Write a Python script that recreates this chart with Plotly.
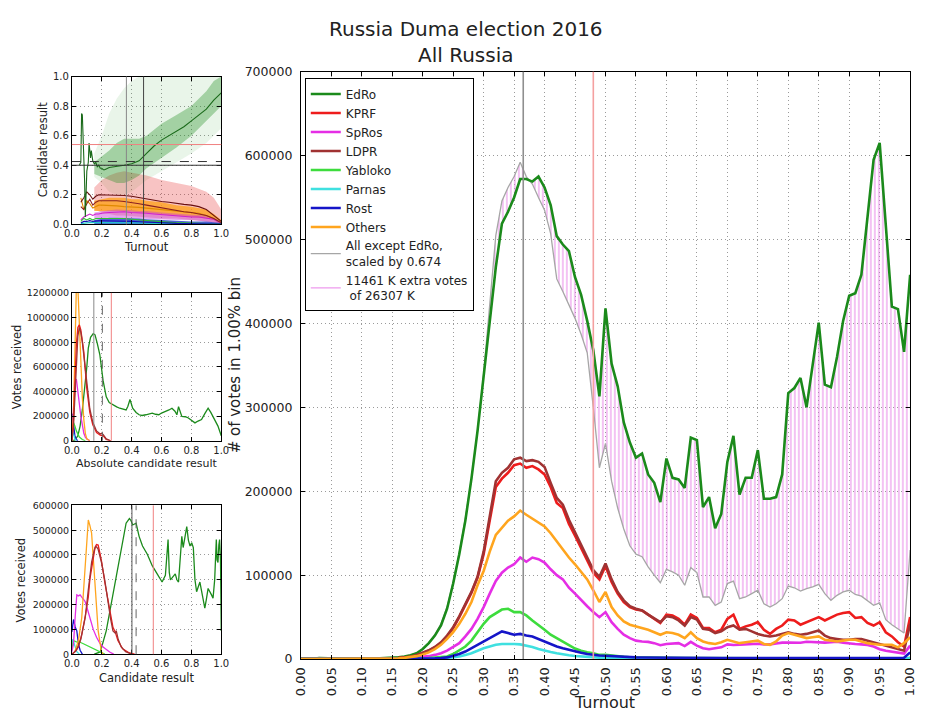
import plotly.graph_objects as go

W, H = 926, 717
FONT = "DejaVu Sans"

# ---------------------------------------------------------------- main panel data
# turnout bins of 1 %, votes per bin in thousands
turnout = [i / 100 for i in range(101)]

edro_k = [0.5, 0.3, 0.5, 1.2, 0.8, 0.6, 0.5, 0.6, 0.5, 0.4,
          0.5, 0.6, 0.7, 0.9, 1.2, 1.6, 2.2, 3.0, 4.5, 7.0,
          12, 19, 28, 40, 60, 90, 125, 165, 215, 272,
          338, 405, 467, 519, 533, 550, 572, 572, 569, 575,
          562, 541, 504, 494, 486, 455, 434, 403, 368, 313,
          418, 352, 325, 282, 258, 240, 245, 220, 210, 187,
          239, 216, 214, 204, 264, 261, 181, 193, 156, 173,
          235, 266, 196, 216, 216, 249, 191, 191, 193, 220,
          317, 323, 335, 300, 350, 401, 327, 324, 360, 403,
          433, 436, 458, 525, 595, 615, 520, 420, 417, 366,
          458]

others_scaled_k = [0.4, 0.3, 0.4, 0.9, 0.7, 0.5, 0.5, 0.5, 0.5, 0.4,
                   0.5, 0.6, 0.7, 0.9, 1.2, 1.7, 2.3, 3.1, 4.7, 7.3,
                   12, 19, 29, 42, 62, 92, 127, 168, 215, 272,
                   340, 420, 505, 546, 562, 575, 592, 575, 566, 550,
                   535, 507, 453, 438, 422, 406, 387, 365, 300, 228,
                   257, 212, 180, 155, 135, 125, 122, 110, 100, 91,
                   107, 104, 100, 88, 109, 103, 74, 74, 64, 68,
                   90, 93, 72, 74, 78, 82, 66, 62, 66, 72,
                   87, 85, 81, 84, 86, 89, 78, 70, 76, 80,
                   82, 77, 75, 70, 64, 67, 47, 41, 36, 31,
                   130]

kprf_k = [0.2, 0.1, 0.2, 0.4, 0.3, 0.2, 0.2, 0.2, 0.2, 0.2,
          0.2, 0.2, 0.3, 0.3, 0.5, 0.8, 1.2, 1.8, 2.8, 4.5,
          7, 10, 14, 19, 27, 37, 50, 64, 79, 97,
          125, 165, 205, 215, 222, 231, 233, 228, 230, 226,
          220, 205, 186, 180, 161, 147, 132, 117, 103, 95,
          111, 92, 78, 68, 62, 59, 58, 53, 48, 43,
          53, 52, 48, 41, 53, 49, 37, 37, 32, 35,
          48, 53, 36, 39, 41, 44, 35, 30, 36, 40,
          47, 46, 41, 44, 47, 50, 46, 50, 53, 55,
          56, 49, 50, 43, 40, 44, 32, 27, 20, 15,
          50]

spros_k = [0.1, 0.1, 0.1, 0.1, 0.1, 0.1, 0.1, 0.1, 0.1, 0.1,
           0.1, 0.1, 0.1, 0.2, 0.2, 0.3, 0.5, 0.8, 1.2, 1.8,
           2.6, 3.5, 5, 7, 10, 14, 19, 27, 36, 48,
           62, 78, 93, 103, 109, 113, 121, 116, 121, 119,
           115, 107, 100, 95, 85, 78, 70, 63, 56, 50,
           56, 44, 36, 29, 25, 22, 21, 20.5, 19, 16.5,
           18, 18.5, 19, 15.5, 20.5, 16, 13, 11.7, 12.5, 14,
           17.5, 16.7, 17, 17.5, 18, 18.3, 17.5, 17.5, 18.5, 19.6,
           19.6, 19.6, 19.5, 20.6, 20, 19.6, 19.6, 20, 20.6, 19.5,
           18.3, 18, 17.5, 16.7, 15, 11.7, 10, 8.9, 7.5, 6.6,
           16]

ldpr_k = [0.2, 0.1, 0.2, 0.3, 0.3, 0.2, 0.2, 0.2, 0.2, 0.2,
          0.2, 0.2, 0.3, 0.3, 0.5, 0.8, 1.2, 1.8, 2.8, 4.5,
          7.5, 10.5, 14.5, 20, 28, 38, 51, 65, 80, 98,
          128, 170, 212, 222, 228, 238, 240, 236, 237, 235,
          229, 210, 192, 184, 166, 151, 136, 121, 106, 98,
          114, 95, 80, 70, 63, 60, 58, 53, 49, 44,
          51, 50, 46, 40, 50, 47, 36, 35, 31, 33,
          38, 40, 35, 36, 33, 30, 28, 27, 28, 30,
          32, 30, 29, 30, 32, 34, 28, 25, 24, 23,
          23, 24, 24, 22, 20, 18, 16, 14, 12, 10,
          42]

yabloko_k = [0, 0, 0, 0.1, 0, 0, 0, 0, 0, 0,
             0, 0, 0, 0.1, 0.1, 0.1, 0.1, 0.2, 0.3, 0.5,
             0.8, 1.1, 1.5, 2, 3, 6, 10, 15, 22, 32,
             42, 50, 55, 59, 60, 56, 56, 52, 46, 41,
             35, 29, 25, 20, 16, 12.5, 10, 8, 7, 5,
             5, 4, 3.2, 2.6, 2.2, 2, 1.8, 1.6, 1.5, 1.4,
             1.5, 1.4, 1.3, 1.2, 1.3, 1.2, 1.0, 1.0, 0.9, 0.9,
             1.0, 1.0, 0.9, 0.9, 0.9, 0.9, 0.8, 0.8, 0.8, 0.8,
             0.8, 0.8, 0.7, 0.7, 0.7, 0.7, 0.7, 0.6, 0.6, 0.6,
             0.6, 0.6, 0.6, 0.5, 0.5, 0.5, 0.5, 0.4, 0.4, 0.4,
             1.5]

parnas_k = [0, 0, 0, 0, 0, 0, 0, 0, 0, 0,
            0, 0, 0, 0, 0, 0, 0, 0.1, 0.1, 0.2,
            0.3, 0.4, 0.5, 0.8, 1.3, 2, 3, 5, 7, 10,
            13, 15, 17, 18, 18.3, 18, 17.5, 16, 14.5, 12,
            10, 8.5, 7, 5.5, 4.5, 3.6, 3, 2.5, 2, 1.7,
            1.7, 1.4, 1.3, 1.2, 1.1, 1.1, 1.0, 1.0, 1.0, 0.9,
            1.0, 0.9, 0.9, 0.8, 0.9, 0.8, 0.7, 0.7, 0.7, 0.7,
            0.7, 0.7, 0.6, 0.6, 0.6, 0.6, 0.6, 0.5, 0.5, 0.5,
            0.5, 0.5, 0.5, 0.5, 0.5, 0.5, 0.4, 0.4, 0.4, 0.4,
            0.4, 0.4, 0.4, 0.4, 0.4, 0.3, 0.3, 0.3, 0.3, 0.4,
            0.8]

rost_k = [0, 0, 0, 0, 0, 0, 0, 0, 0, 0,
          0, 0, 0, 0, 0, 0.1, 0.1, 0.1, 0.2, 0.3,
          0.4, 0.6, 0.8, 1.2, 2, 4, 6, 9, 13, 18,
          22, 26, 29, 33, 31, 29, 30, 28, 27, 24,
          21, 18, 15, 13, 11, 9, 7.5, 6, 5, 4.3,
          4, 3.5, 3, 2.6, 2.2, 2.0, 1.9, 1.8, 1.7, 1.6,
          1.7, 1.6, 1.5, 1.4, 1.6, 1.5, 1.3, 1.2, 1.2, 1.2,
          1.3, 1.3, 1.2, 1.2, 1.2, 1.2, 1.1, 1.1, 1.1, 1.1,
          1.2, 1.2, 1.1, 1.1, 1.1, 1.1, 1.0, 1.0, 1.0, 1.0,
          1.0, 1.0, 1.0, 1.0, 0.9, 0.9, 0.9, 0.9, 1.0, 1.5,
          8]

others_k = [0.1, 0.1, 0.1, 0.2, 0.2, 0.1, 0.1, 0.1, 0.1, 0.1,
            0.1, 0.2, 0.2, 0.3, 0.4, 0.6, 0.9, 1.4, 2.2, 3.5,
            5.5, 8, 12, 17, 24, 32, 42, 54, 68, 88,
            105, 128, 148, 157, 165, 170, 177, 172, 167, 163,
            158, 150, 140, 130, 121, 113, 104, 95, 82, 68,
            80, 62, 52, 45, 41, 39, 37, 35, 32, 29,
            32, 31, 29, 25, 32, 25, 21, 19, 18, 20,
            23, 21, 19, 20, 21, 22, 18, 17, 21, 28,
            31, 29, 27, 25, 26, 27, 23, 22, 21, 22,
            23, 23, 21, 19, 18, 17, 17, 17, 14, 19,
            26]

party_names = ["EdRo", "KPRF", "SpRos", "LDPR", "Yabloko", "Parnas", "Rost", "Others"]
party_colors = ["#1b8a1b", "#ee1c1c", "#e52ee5", "#a03232", "#3ddc3d", "#3fe0e0", "#1515c8", "#ffa51e"]
party_votes_k = [edro_k, kprf_k, spros_k, ldpr_k, yabloko_k, parnas_k, rost_k, others_k]

scale_label = "All except EdRo,<br>scaled by 0.674"
extra_label = "11461 K extra votes<br> of 26307 K"

median_turnout = 0.365
official_turnout = 0.48

# ---------------------------------------------------------------- small panel 1 (result vs turnout)
p1_edro_t = [0.05, 0.06, 0.065, 0.07, 0.085, 0.09, 0.10, 0.11, 0.115, 0.125, 0.13, 0.14, 0.15,
             0.16, 0.17, 0.18, 0.19, 0.20, 0.21, 0.22, 0.25, 0.30, 0.35, 0.40, 0.45, 0.50,
             0.55, 0.60, 0.65, 0.70, 0.75, 0.80, 0.85, 0.90, 0.95, 1.00]
p1_edro_r = [0.40, 0.42, 0.75, 0.74, 0.30, 0.05, 0.36, 0.42, 0.55, 0.45, 0.50, 0.43, 0.41,
             0.42, 0.39, 0.40, 0.38, 0.38, 0.37, 0.37, 0.385, 0.39, 0.40, 0.41, 0.43, 0.48,
             0.53, 0.57, 0.60, 0.63, 0.66, 0.70, 0.74, 0.78, 0.84, 0.89]

p1_t = [0.06, 0.08, 0.10, 0.12, 0.14, 0.16, 0.18, 0.20, 0.25, 0.30, 0.35, 0.40, 0.45, 0.50,
        0.55, 0.60, 0.65, 0.70, 0.75, 0.80, 0.85, 0.90, 0.95, 1.00]
p1_kprf_r = [0.15, 0.18, 0.22, 0.20, 0.17, 0.19, 0.20, 0.20, 0.20, 0.20, 0.195, 0.19, 0.18, 0.17,
             0.16, 0.155, 0.15, 0.14, 0.135, 0.13, 0.12, 0.10, 0.06, 0.02]
p1_ldpr_r = [0.12, 0.10, 0.14, 0.17, 0.13, 0.15, 0.16, 0.16, 0.165, 0.16, 0.155, 0.15, 0.14, 0.13,
             0.12, 0.11, 0.10, 0.09, 0.085, 0.08, 0.07, 0.06, 0.04, 0.01]
p1_others_r = [0.18, 0.10, 0.16, 0.14, 0.11, 0.12, 0.13, 0.13, 0.13, 0.125, 0.12, 0.12, 0.115, 0.11,
               0.105, 0.10, 0.095, 0.09, 0.085, 0.08, 0.075, 0.06, 0.04, 0.015]
p1_spros_r = [0.03, 0.05, 0.06, 0.07, 0.06, 0.07, 0.07, 0.075, 0.08, 0.085, 0.085, 0.08, 0.08, 0.075,
              0.07, 0.065, 0.06, 0.06, 0.055, 0.05, 0.05, 0.045, 0.035, 0.01]
p1_yabloko_r = [0.02, 0.04, 0.03, 0.04, 0.03, 0.04, 0.04, 0.04, 0.045, 0.045, 0.04, 0.035, 0.03, 0.025,
                0.02, 0.015, 0.012, 0.01, 0.01, 0.008, 0.007, 0.006, 0.005, 0.003]
p1_rost_r = [0.01, 0.02, 0.02, 0.025, 0.02, 0.025, 0.025, 0.025, 0.025, 0.025, 0.022, 0.02, 0.018, 0.015,
             0.012, 0.01, 0.008, 0.007, 0.006, 0.005, 0.005, 0.004, 0.003, 0.002]
p1_parnas_r = [0.005, 0.01, 0.01, 0.012, 0.01, 0.012, 0.012, 0.012, 0.014, 0.014, 0.013, 0.012, 0.01, 0.008,
               0.006, 0.005, 0.004, 0.004, 0.003, 0.003, 0.003, 0.002, 0.002, 0.001]

# density clouds of polling stations (envelopes)
cloud_t = [0.15, 0.2, 0.25, 0.3, 0.35, 0.4, 0.45, 0.5, 0.6, 0.7, 0.8, 0.9, 0.95, 1.0]
green_haze_lo = [0.32, 0.28, 0.22, 0.2, 0.2, 0.22, 0.26, 0.3, 0.36, 0.42, 0.48, 0.55, 0.6, 0.65]
green_haze_hi = [0.48, 0.6, 0.75, 0.85, 0.92, 0.97, 1.0, 1.0, 1.0, 1.0, 1.0, 1.0, 1.0, 1.0]
green_core_lo = [0.34, 0.32, 0.3, 0.28, 0.28, 0.3, 0.33, 0.38, 0.45, 0.52, 0.6, 0.7, 0.75, 0.8]
green_core_hi = [0.42, 0.46, 0.5, 0.55, 0.58, 0.58, 0.58, 0.6, 0.68, 0.74, 0.8, 0.9, 0.97, 1.0]
red_lo = [0.1, 0.08, 0.07, 0.06, 0.06, 0.06, 0.05, 0.05, 0.04, 0.04, 0.03, 0.02, 0.01, 0.0]
red_hi = [0.25, 0.3, 0.33, 0.35, 0.36, 0.35, 0.34, 0.33, 0.3, 0.28, 0.26, 0.22, 0.18, 0.1]
orange_lo = [0.09, 0.09, 0.09, 0.09, 0.09, 0.09, 0.08, 0.08, 0.07, 0.06, 0.05, 0.04, 0.03, 0.0]
orange_hi = [0.16, 0.17, 0.18, 0.18, 0.18, 0.17, 0.17, 0.16, 0.15, 0.13, 0.12, 0.1, 0.07, 0.03]
violet_lo = [0.04, 0.04, 0.045, 0.045, 0.045, 0.045, 0.04, 0.04, 0.035, 0.03, 0.03, 0.02, 0.015, 0.0]
violet_hi = [0.08, 0.09, 0.095, 0.1, 0.1, 0.095, 0.09, 0.09, 0.08, 0.07, 0.065, 0.06, 0.045, 0.02]
blue_lo = [0.0, 0.0, 0.0, 0.0, 0.0, 0.0, 0.0, 0.0, 0.0, 0.0, 0.0, 0.0, 0.0, 0.0]
blue_hi = [0.03, 0.04, 0.045, 0.045, 0.045, 0.04, 0.04, 0.035, 0.03, 0.025, 0.02, 0.02, 0.015, 0.01]

p1_hlines = [(0.54, "#f08080", "solid"), (0.425, "#333333", "dash"), (0.40, "#333333", "solid")]
p1_vlines = [(0.365, "#888888", "solid"), (0.48, "#444444", "solid")]

# ---------------------------------------------------------------- small panel 2 (votes vs absolute result)
edro_abs_x = [0.0, 0.02, 0.04, 0.055, 0.07, 0.088, 0.10, 0.11, 0.125, 0.143, 0.155, 0.17, 0.187, 0.209,
              0.23, 0.25, 0.275, 0.30, 0.32, 0.34, 0.363, 0.375, 0.389, 0.407, 0.43, 0.45, 0.47, 0.495,
              0.52, 0.538, 0.56, 0.582, 0.60, 0.626, 0.65, 0.67, 0.69, 0.703, 0.714, 0.736, 0.76, 0.78,
              0.80, 0.824, 0.845, 0.868, 0.89, 0.912, 0.93, 0.945, 0.96, 0.978, 1.0]
edro_abs_k = [0, 5, 40, 119, 250, 435, 600, 752, 840, 870, 860, 790, 700, 488,
              356, 310, 290, 275, 264, 255, 250, 280, 335, 264, 230, 211, 205, 211,
              215, 224, 215, 211, 225, 237, 250, 264, 240, 211, 277, 198, 195, 185,
              165, 145, 160, 172, 220, 264, 230, 198, 160, 119, 40]
others_abs_x = [0.0, 0.01, 0.02, 0.03, 0.04, 0.05, 0.06, 0.07, 0.08, 0.09, 0.10, 0.12]
others_abs_k = [0, 200, 700, 1250, 1250, 900, 620, 350, 170, 60, 15, 0]
kprf_abs_x = [0.0, 0.01, 0.02, 0.03, 0.04, 0.05, 0.06, 0.07, 0.08, 0.10, 0.12, 0.14, 0.165, 0.19, 0.21, 0.23, 0.26]
kprf_abs_k = [0, 150, 450, 780, 920, 940, 900, 820, 720, 420, 230, 130, 66, 45, 40, 10, 0]
ldpr_abs_x = [0.0, 0.01, 0.02, 0.03, 0.04, 0.05, 0.06, 0.07, 0.08, 0.10, 0.12, 0.14, 0.165, 0.19, 0.20, 0.21, 0.23, 0.26]
ldpr_abs_k = [0, 100, 350, 650, 850, 920, 880, 800, 700, 450, 260, 150, 80, 55, 60, 50, 15, 0]
spros_abs_x = [0.0, 0.01, 0.02, 0.03, 0.04, 0.05, 0.06, 0.07, 0.08, 0.09, 0.10, 0.12]
spros_abs_k = [0, 300, 480, 500, 420, 300, 200, 120, 60, 30, 15, 0]
yabloko_abs_x = [0.0, 0.01, 0.02, 0.03, 0.05, 0.07, 0.09]
yabloko_abs_k = [100, 150, 120, 80, 30, 10, 0]
parnas_abs_x = [0.0, 0.005, 0.01, 0.02, 0.03]
parnas_abs_k = [80, 100, 60, 15, 0]
rost_abs_x = [0.0, 0.005, 0.01, 0.02, 0.03, 0.04]
rost_abs_k = [60, 220, 150, 40, 10, 0]
p2_vlines = [(0.147, "#888888", "solid"), (0.204, "#666666", "dash"), (0.264, "#f08080", "solid")]

# ---------------------------------------------------------------- small panel 3 (votes vs result)
edro_res_x = [0.15, 0.19, 0.23, 0.275, 0.32, 0.363, 0.385, 0.395, 0.407, 0.43, 0.45, 0.473, 0.505,
              0.538, 0.571, 0.604, 0.626, 0.635, 0.644, 0.652, 0.66, 0.692, 0.703, 0.714, 0.725,
              0.736, 0.745, 0.758, 0.769, 0.78, 0.791, 0.802, 0.813, 0.824, 0.835, 0.857, 0.875,
              0.89, 0.9, 0.912, 0.934, 0.945, 0.956, 0.962, 0.967, 0.972, 0.978, 0.984, 0.989,
              0.995, 1.0]
edro_res_k = [0, 9, 94, 239, 390, 528, 547, 540, 521, 528, 475, 436, 403,
              357, 324, 291, 318, 380, 462, 330, 300, 324, 300, 291, 380,
              475, 430, 480, 514, 460, 436, 449, 430, 300, 252, 291, 240,
              186, 220, 265, 240, 226, 300, 440, 462, 380, 370, 440, 462,
              380, 94]
others_res_x = [0.02, 0.044, 0.066, 0.088, 0.10, 0.11, 0.12, 0.132, 0.154, 0.176, 0.198, 0.21]
others_res_k = [10, 55, 147, 344, 470, 541, 520, 488, 291, 94, 9, 0]
kprf_res_x = [0.0, 0.02, 0.044, 0.066, 0.088, 0.11, 0.121, 0.143, 0.155, 0.165, 0.176, 0.187, 0.20,
              0.22, 0.253, 0.275, 0.29, 0.308, 0.34, 0.385, 0.42]
kprf_res_k = [0, 10, 29, 80, 147, 230, 304, 396, 430, 442, 440, 409, 370,
              291, 173, 108, 90, 55, 22, 5, 0]
ldpr_res_x = [0.0, 0.03, 0.06, 0.09, 0.11, 0.132, 0.15, 0.16, 0.175, 0.198, 0.22, 0.242, 0.26,
              0.275, 0.29, 0.297, 0.31, 0.33, 0.36, 0.40]
ldpr_res_k = [0, 15, 60, 150, 260, 370, 420, 436, 425, 370, 300, 200, 140,
              94, 85, 95, 60, 29, 10, 0]
spros_res_x = [0.0, 0.011, 0.022, 0.033, 0.044, 0.055, 0.066, 0.077, 0.088, 0.10, 0.121, 0.143,
               0.165, 0.187, 0.209, 0.231, 0.253, 0.28]
spros_res_k = [10, 42, 150, 239, 235, 239, 230, 220, 213, 190, 147, 100, 68, 45, 29, 18, 9, 0]
yabloko_res_x = [0.0, 0.011, 0.03, 0.055, 0.077, 0.10, 0.143, 0.187, 0.22]
yabloko_res_k = [20, 55, 50, 48, 42, 35, 22, 9, 0]
parnas_res_x = [0.0, 0.005, 0.011, 0.022, 0.033, 0.05]
parnas_res_k = [40, 60, 50, 25, 10, 0]
rost_res_x = [0.0, 0.005, 0.011, 0.022, 0.033, 0.044, 0.055, 0.07]
rost_res_k = [90, 120, 140, 110, 94, 42, 16, 0]
p3_vlines = [(0.402, "#555555", "solid"), (0.43, "#666666", "dash"), (0.545, "#f08080", "solid")]


# ---------------------------------------------------------------- helpers
def px_x(p):
    return p / W


def px_y(p):
    return 1 - p / H


def kilo(vals):
    return [v * 1000 for v in vals]


def axis(domain, rng, dtick, fmt, anchor, size, angle=None, standoff=0):
    a = dict(domain=domain, range=rng, dtick=dtick, tick0=0, tickformat=fmt, anchor=anchor,
             showline=True, linecolor="black", linewidth=1, mirror="ticks",
             ticks="inside", ticklen=4, tickcolor="black", ticklabelstandoff=standoff,
             showgrid=True, gridcolor="#9a9a9a", griddash="1px,3px", gridwidth=1,
             zeroline=False, fixedrange=True,
             tickfont=dict(family=FONT, size=size, color="#222222"))
    if angle is not None:
        a["tickangle"] = angle
    return a


fig = go.Figure()

# ---------------------------------------------------------------- main panel traces
# hatched excess area between EdRo and the scaled sum of the other parties
fig.add_trace(go.Scatter(x=turnout, y=kilo(others_scaled_k), mode="lines", line=dict(width=0),
                         showlegend=False, hoverinfo="skip", xaxis="x", yaxis="y"))
fig.add_trace(go.Scatter(x=turnout, y=kilo(edro_k), mode="lines", line=dict(width=0),
                         fill="tonexty", fillcolor="rgba(0,0,0,0)",
                         fillpattern=dict(shape="|", fgcolor="#e36ee3", bgcolor="rgba(0,0,0,0)",
                                          size=4, solidity=0.42, fillmode="overlay"),
                         showlegend=False, hoverinfo="skip", xaxis="x", yaxis="y"))
fig.add_trace(go.Scatter(x=turnout, y=kilo(others_scaled_k), mode="lines",
                         line=dict(color="#a6a6a6", width=1.3), name=scale_label,
                         legendrank=9, xaxis="x", yaxis="y"))
fig.add_trace(go.Scatter(x=[None], y=[None], mode="lines", line=dict(color="#ee9aee", width=1.3),
                         name=extra_label, legendrank=10, xaxis="x", yaxis="y"))

for i, (name, votes, color) in enumerate(zip(party_names, party_votes_k, party_colors)):
    fig.add_trace(go.Scatter(x=turnout, y=kilo(votes), mode="lines", name=name,
                             line=dict(color=color, width=2.6), legendrank=i + 1,
                             xaxis="x", yaxis="y"))

# ---------------------------------------------------------------- small panel 1 traces
clouds = [
    (green_haze_lo, green_haze_hi, "rgba(40,160,40,0.10)"),
    (red_lo, red_hi, "rgba(230,40,40,0.28)"),
    (green_core_lo, green_core_hi, "rgba(30,140,30,0.34)"),
    (orange_lo, orange_hi, "rgba(255,160,20,0.75)"),
    (violet_lo, violet_hi, "rgba(200,60,220,0.45)"),
    (blue_lo, blue_hi, "rgba(20,40,200,0.75)"),
]
for lo, hi, col in clouds:
    fig.add_trace(go.Scatter(x=cloud_t + cloud_t[::-1], y=hi + lo[::-1], mode="lines",
                             fill="toself", fillcolor=col, line=dict(width=0),
                             showlegend=False, hoverinfo="skip", xaxis="x2", yaxis="y2"))

p1_lines = [
    (p1_t, p1_others_r, "#e08a00"), (p1_t, p1_spros_r, "#d020d0"),
    (p1_t, p1_yabloko_r, "#30c030"), (p1_t, p1_parnas_r, "#20c8c8"),
    (p1_t, p1_rost_r, "#1010b0"), (p1_t, p1_ldpr_r, "#8b2020"),
    (p1_t, p1_kprf_r, "#6a1010"), (p1_edro_t, p1_edro_r, "#1a6a1a"),
]
for xs, ys, col in p1_lines:
    fig.add_trace(go.Scatter(x=xs, y=ys, mode="lines", line=dict(color=col, width=1.1),
                             showlegend=False, hoverinfo="skip", xaxis="x2", yaxis="y2"))

# ---------------------------------------------------------------- small panel 2 traces
p2_lines = [
    (edro_abs_x, edro_abs_k, party_colors[0]), (rost_abs_x, rost_abs_k, party_colors[6]),
    (parnas_abs_x, parnas_abs_k, party_colors[5]), (yabloko_abs_x, yabloko_abs_k, party_colors[4]),
    (spros_abs_x, spros_abs_k, party_colors[2]), (others_abs_x, others_abs_k, party_colors[7]),
    (kprf_abs_x, kprf_abs_k, party_colors[1]), (ldpr_abs_x, ldpr_abs_k, party_colors[3]),
]
for xs, ys, col in p2_lines:
    fig.add_trace(go.Scatter(x=xs, y=kilo(ys), mode="lines", line=dict(color=col, width=1.3),
                             showlegend=False, hoverinfo="skip", xaxis="x3", yaxis="y3"))

# ---------------------------------------------------------------- small panel 3 traces
p3_lines = [
    (edro_res_x, edro_res_k, party_colors[0]), (rost_res_x, rost_res_k, party_colors[6]),
    (parnas_res_x, parnas_res_k, party_colors[5]), (yabloko_res_x, yabloko_res_k, party_colors[4]),
    (spros_res_x, spros_res_k, party_colors[2]), (others_res_x, others_res_k, party_colors[7]),
    (kprf_res_x, kprf_res_k, party_colors[1]), (ldpr_res_x, ldpr_res_k, party_colors[3]),
]
for xs, ys, col in p3_lines:
    fig.add_trace(go.Scatter(x=xs, y=kilo(ys), mode="lines", line=dict(color=col, width=1.3),
                             showlegend=False, hoverinfo="skip", xaxis="x4", yaxis="y4"))

# ---------------------------------------------------------------- reference lines
shapes = [
    dict(type="line", xref="x", yref="y domain", x0=median_turnout, x1=median_turnout, y0=0, y1=1,
         line=dict(color="#8f8f8f", width=1.6)),
    dict(type="line", xref="x", yref="y domain", x0=official_turnout, x1=official_turnout, y0=0, y1=1,
         line=dict(color="#f4a0a0", width=1.6)),
]
for xv, col, dash in p1_vlines:
    shapes.append(dict(type="line", xref="x2", yref="y2 domain", x0=xv, x1=xv, y0=0, y1=1,
                       line=dict(color=col, width=1, dash=dash)))
for yv, col, dash in p1_hlines:
    shapes.append(dict(type="line", xref="x2 domain", yref="y2", x0=0, x1=1, y0=yv, y1=yv,
                       line=dict(color=col, width=1, dash=dash)))
for xv, col, dash in p2_vlines:
    shapes.append(dict(type="line", xref="x3", yref="y3 domain", x0=xv, x1=xv, y0=0, y1=1,
                       line=dict(color=col, width=1, dash=dash)))
for xv, col, dash in p3_vlines:
    shapes.append(dict(type="line", xref="x4", yref="y4 domain", x0=xv, x1=xv, y0=0, y1=1,
                       line=dict(color=col, width=1, dash=dash)))


# ---------------------------------------------------------------- titles
def label(text, x, y, size, angle=0, yanchor="middle"):
    return dict(text=text, x=px_x(x), y=px_y(y), xref="paper", yref="paper", showarrow=False,
                textangle=angle, xanchor="center", yanchor=yanchor,
                font=dict(family=FONT, size=size, color="#222222"))


annotations = [
    label("Russia Duma election 2016<br>All Russia", 466, 7, 20, yanchor="top"),
    label("# of votes in 1.00% bin", 231, 365, 15, -90),
    label("Turnout", 607, 709, 16),
    label("Candidate result", 36, 145, 11.5, -90),
    label("Turnout", 141, 244, 11.5),
    label("Votes received", 9, 366, 11.5, -90),
    label("Absolute candidate result", 141, 465, 11),
    label("Votes received", 13, 584, 11.5, -90),
    label("Candidate result", 141, 684, 11.5),
]

sx = [px_x(65), px_x(217)]
layout = dict(
    width=W, height=H,
    margin=dict(l=0, r=0, t=0, b=0),
    paper_bgcolor="white", plot_bgcolor="white",
    font=dict(family=FONT, color="#222222"),
    xaxis=axis([px_x(298), px_x(918)], [0, 1], 0.05, ".2f", "y", 13, angle=-90, standoff=2),
    yaxis=axis([px_y(665), px_y(65)], [0, 700000], 100000, "d", "x", 12.5, standoff=5),
    xaxis2=axis(sx, [0, 1], 0.2, ".1f", "y2", 10),
    yaxis2=axis([px_y(221), px_y(70)], [0, 1], 0.2, ".1f", "x2", 10),
    xaxis3=axis(sx, [0, 1], 0.2, ".1f", "y3", 10),
    yaxis3=axis([px_y(442), px_y(291)], [0, 1200000], 200000, "d", "x3", 9.5),
    xaxis4=axis(sx, [0, 1], 0.2, ".1f", "y4", 10),
    yaxis4=axis([px_y(660), px_y(508)], [0, 600000], 100000, "d", "x4", 9.5),
    legend=dict(x=px_x(302), y=px_y(72), xanchor="left", yanchor="top",
                bgcolor="white", bordercolor="black", borderwidth=1,
                font=dict(family=FONT, size=12, color="#222222"),
                itemwidth=30, traceorder="normal"),
    shapes=shapes,
    annotations=annotations,
    showlegend=True,
    hovermode=False,
)
fig.update_layout(**layout)

fig.write_html("out.html")
